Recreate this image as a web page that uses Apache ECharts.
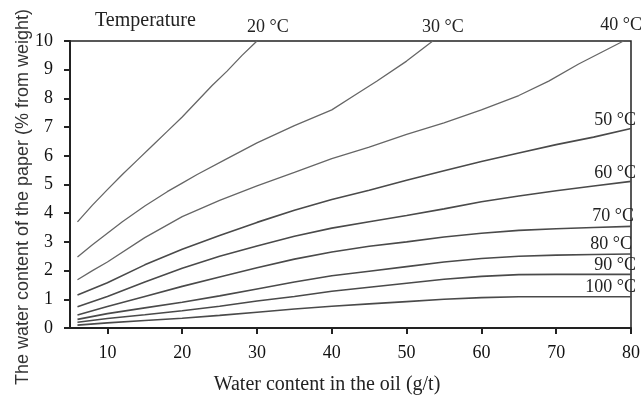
<!DOCTYPE html>
<html>
<head>
<meta charset="utf-8">
<script src="https://cdn.jsdelivr.net/npm/echarts@6/dist/echarts.min.js"></script>
<style>
  html, body { margin: 0; padding: 0; background: #fff; }
  #chart { width: 643px; height: 398px; }
</style>
</head>
<body>
<div id="chart"></div>
<script>
// water content in oil (g/t) vs water content of paper (%), per temperature
const t20 = [[6, 3.7], [8, 4.28], [10, 4.82], [12, 5.35], [14, 5.85], [16, 6.35], [18, 6.85], [20, 7.35], [22, 7.9], [24, 8.45], [26, 8.95], [28, 9.5], [30, 10]]
const t30 = [[6, 2.47], [8, 2.9], [10, 3.3], [12, 3.7], [15, 4.25], [18, 4.75], [20, 5.05], [22, 5.35], [26, 5.9], [30, 6.45], [35, 7.05], [40, 7.6], [43, 8.1], [46, 8.6], [50, 9.3], [53.5, 10]]
const t40 = [[6, 1.68], [8, 2.0], [10, 2.3], [15, 3.15], [20, 3.88], [25, 4.45], [30, 4.95], [35, 5.42], [40, 5.9], [45, 6.3], [50, 6.75], [55, 7.15], [60, 7.6], [65, 8.1], [69, 8.6], [73, 9.2], [76, 9.6], [79, 10]]
const t50 = [[6, 1.15], [10, 1.58], [15, 2.2], [20, 2.74], [25, 3.22], [30, 3.68], [35, 4.1], [40, 4.48], [45, 4.8], [50, 5.15], [55, 5.48], [60, 5.8], [65, 6.1], [70, 6.39], [75, 6.65], [80, 6.95]]
const t60 = [[6, 0.74], [10, 1.1], [15, 1.6], [20, 2.08], [25, 2.5], [30, 2.86], [35, 3.2], [40, 3.48], [45, 3.7], [50, 3.92], [55, 4.15], [60, 4.4], [65, 4.6], [70, 4.78], [75, 4.95], [80, 5.11]]
const t70 = [[6, 0.45], [10, 0.75], [15, 1.1], [20, 1.45], [25, 1.78], [30, 2.1], [35, 2.4], [40, 2.65], [45, 2.85], [50, 3.0], [55, 3.17], [60, 3.3], [65, 3.4], [70, 3.46], [75, 3.5], [80, 3.54]]
const t80 = [[6, 0.3], [10, 0.5], [15, 0.7], [20, 0.9], [25, 1.12], [30, 1.36], [35, 1.6], [40, 1.82], [45, 1.98], [50, 2.14], [55, 2.3], [60, 2.42], [65, 2.5], [70, 2.54], [75, 2.56], [80, 2.58]]
const t90 = [[6, 0.2], [10, 0.33], [15, 0.46], [20, 0.6], [25, 0.76], [30, 0.94], [35, 1.1], [40, 1.28], [45, 1.42], [50, 1.56], [55, 1.7], [60, 1.8], [65, 1.86], [70, 1.87], [80, 1.87]]
const t100 = [[6, 0.1], [10, 0.18], [15, 0.26], [20, 0.34], [25, 0.44], [30, 0.55], [35, 0.66], [40, 0.76], [45, 0.84], [50, 0.92], [55, 1.0], [60, 1.06], [65, 1.09], [70, 1.09], [80, 1.09]]

const seriesNames = ['20 °C', '30 °C', '40 °C', '50 °C', '60 °C', '70 °C', '80 °C', '90 °C', '100 °C']
const seriesData = [t20, t30, t40, t50, t60, t70, t80, t90, t100]
const xTicks = [10, 20, 30, 40, 50, 60, 70, 80]

const serif = '"Liberation Serif", "DejaVu Serif", serif'
const sans = '"Liberation Sans", Arial, sans-serif'

// label boxes for the curves (screen position)
const labelPos = [
  { x: 247, y: 27, align: 'left' },
  { x: 422, y: 27, align: 'left' },
  { x: 642, y: 25, align: 'right' },
  { x: 636, y: 120, align: 'right' },
  { x: 636, y: 173, align: 'right' },
  { x: 634, y: 216, align: 'right' },
  { x: 632, y: 244, align: 'right' },
  { x: 636, y: 265, align: 'right' },
  { x: 636, y: 287, align: 'right' }
]

const myChart = echarts.init(document.getElementById('chart'))

let option = {
  animation: false,
  backgroundColor: '#fff',
  grid: {
    left: 70,
    right: 2,
    top: 41,
    bottom: 70,
    show: true,
    borderColor: '#222',
    borderWidth: 1.5
  },
  xAxis: {
    type: 'value',
    min: 5,
    max: 80,
    splitLine: { show: false },
    axisLine: { lineStyle: { color: '#222', width: 2 } },
    axisTick: { length: 6, lineStyle: { color: '#222', width: 2 }, customValues: xTicks },
    axisLabel: {
      customValues: xTicks,
      margin: 16,
      color: '#111',
      fontFamily: serif,
      fontSize: 18
    }
  },
  yAxis: {
    type: 'value',
    min: 0,
    max: 10,
    interval: 1,
    splitLine: { show: false },
    axisLine: { lineStyle: { color: '#222', width: 2 } },
    axisTick: { length: 6, lineStyle: { color: '#222', width: 2 } },
    axisLabel: {
      margin: 17,
      color: '#111',
      fontFamily: serif,
      fontSize: 18
    }
  },
  series: seriesData.map(function (d, i) {
    return {
      name: seriesNames[i],
      type: 'line',
      data: d,
      smooth: false,
      symbol: 'none',
      lineStyle: {
        color: i < 3 ? '#666' : '#4a4a4a',
        width: i < 3 ? 1.3 : 1.6
      }
    }
  }),
  graphic: [
    {
      type: 'text',
      left: 95,
      top: 11,
      style: { text: 'Temperature', font: '20px ' + serif, fill: '#222' }
    },
    {
      type: 'text',
      x: 327,
      y: 385,
      style: {
        text: 'Water content in the oil (g/t)',
        font: '20px ' + serif,
        fill: '#222',
        textAlign: 'center',
        textVerticalAlign: 'middle'
      }
    },
    {
      type: 'text',
      x: 23,
      y: 197,
      rotation: Math.PI / 2,
      style: {
        text: 'The water content of the paper (% from weight)',
        font: '18px ' + sans,
        fill: '#333',
        textAlign: 'center',
        textVerticalAlign: 'middle'
      }
    }
  ].concat(seriesNames.map(function (n, i) {
    return {
      type: 'text',
      x: labelPos[i].x,
      y: labelPos[i].y,
      style: {
        text: n,
        font: '18px ' + serif,
        fill: '#222',
        textAlign: labelPos[i].align,
        textVerticalAlign: 'middle'
      }
    }
  }))
}

myChart.setOption(option)
window.addEventListener('resize', function () {
  myChart.resize()
})
</script>
</body>
</html>
